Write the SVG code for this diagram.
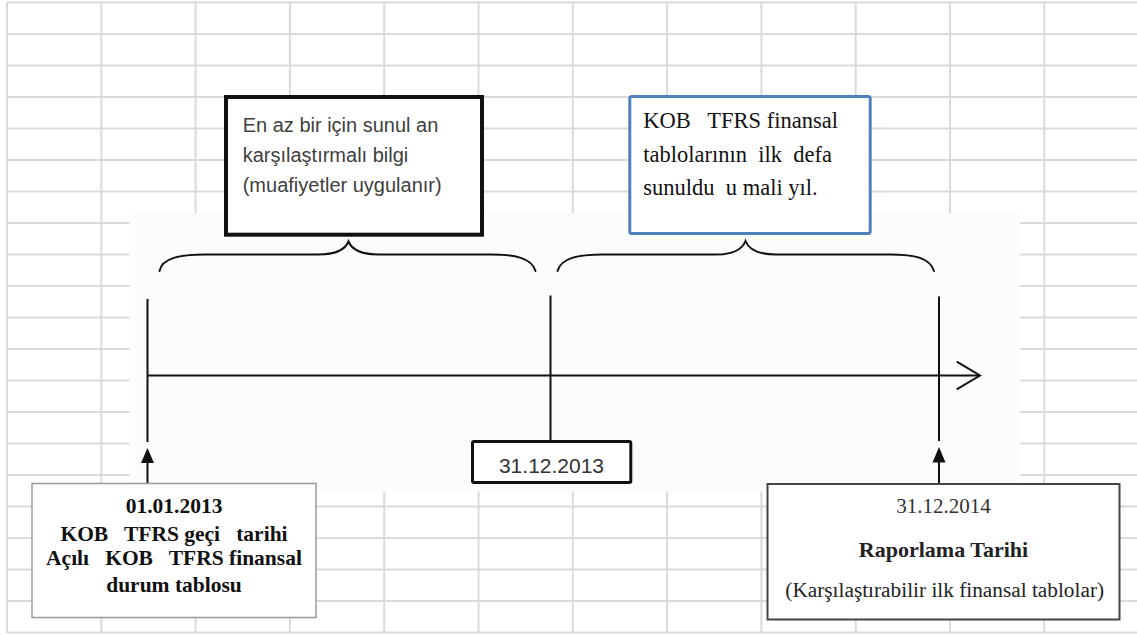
<svg xmlns="http://www.w3.org/2000/svg" width="1137" height="635" viewBox="0 0 1137 635">
<style>
.grid line{stroke:#dadada;stroke-width:2}
.ln{stroke:#111;stroke-width:2;fill:none}
.brace{stroke:#111;stroke-width:2;fill:none;stroke-linecap:round}
.head{fill:#111}
.sans{font-family:"Liberation Sans",Arial,sans-serif}
.serif{font-family:"Liberation Serif","Times New Roman",serif}
text{white-space:pre}
</style>
<rect width="1137" height="635" fill="#ffffff"/>
<g class="grid">
<line x1="7" y1="2.5" x2="1137" y2="2.5"/>
<line x1="7" y1="34" x2="1137" y2="34"/>
<line x1="7" y1="65.5" x2="1137" y2="65.5"/>
<line x1="7" y1="97" x2="1137" y2="97"/>
<line x1="7" y1="128.5" x2="1137" y2="128.5"/>
<line x1="7" y1="160" x2="1137" y2="160"/>
<line x1="7" y1="191.5" x2="1137" y2="191.5"/>
<line x1="7" y1="223" x2="1137" y2="223"/>
<line x1="7" y1="254.5" x2="1137" y2="254.5"/>
<line x1="7" y1="286" x2="1137" y2="286"/>
<line x1="7" y1="317.5" x2="1137" y2="317.5"/>
<line x1="7" y1="349" x2="1137" y2="349"/>
<line x1="7" y1="380.5" x2="1137" y2="380.5"/>
<line x1="7" y1="412" x2="1137" y2="412"/>
<line x1="7" y1="443.5" x2="1137" y2="443.5"/>
<line x1="7" y1="475" x2="1137" y2="475"/>
<line x1="7" y1="506.5" x2="1137" y2="506.5"/>
<line x1="7" y1="538" x2="1137" y2="538"/>
<line x1="7" y1="569.5" x2="1137" y2="569.5"/>
<line x1="7" y1="601" x2="1137" y2="601"/>
<line x1="7" y1="632.5" x2="1137" y2="632.5"/>
<line x1="7" y1="2.5" x2="7" y2="632.5"/>
<line x1="101.3" y1="2.5" x2="101.3" y2="632.5"/>
<line x1="195.6" y1="2.5" x2="195.6" y2="632.5"/>
<line x1="289.9" y1="2.5" x2="289.9" y2="632.5"/>
<line x1="384.2" y1="2.5" x2="384.2" y2="632.5"/>
<line x1="478.5" y1="2.5" x2="478.5" y2="632.5"/>
<line x1="572.8" y1="2.5" x2="572.8" y2="632.5"/>
<line x1="667.1" y1="2.5" x2="667.1" y2="632.5"/>
<line x1="761.4" y1="2.5" x2="761.4" y2="632.5"/>
<line x1="855.7" y1="2.5" x2="855.7" y2="632.5"/>
<line x1="950" y1="2.5" x2="950" y2="632.5"/>
<line x1="1044.3" y1="2.5" x2="1044.3" y2="632.5"/>
</g>
<rect x="129.5" y="213" width="890.5" height="278.5" fill="#fcfcfc"/>
<g id="connectors">
<path class="brace" d="M159.5,271 C162,258 180,254.5 205,254.5 L318,254.5 C335,254.5 345,250 348.5,241.5 C352,250 362,254.5 379,254.5 L490,254.5 C515,254.5 532,258 535.5,271"/>
<path class="brace" d="M557.5,271 C561,258 578,254.5 603,254.5 L716,254.5 C733,254.5 742,250 745.5,241 C749,250 759,254.5 776,254.5 L890,254.5 C915,254.5 930,258 934,271"/>
<line class="ln" x1="147.5" y1="375.5" x2="979" y2="375.5"/>
<polyline class="ln" points="956.7,361.7 980,375.5 956.7,389.3"/>
<line class="ln" x1="147.5" y1="299" x2="147.5" y2="442"/>
<line class="ln" x1="550.5" y1="295.5" x2="550.5" y2="441"/>
<line class="ln" x1="939" y1="296.5" x2="939" y2="441"/>
<line class="ln" x1="147.5" y1="483" x2="147.5" y2="460"/>
<polygon class="head" points="147.5,448 141,463 154,463"/>
<line class="ln" x1="939" y1="483" x2="939" y2="460"/>
<polygon class="head" points="939,447 932.5,462.5 945.5,462.5"/>
</g>
<g id="box-karsilastirmali">
<rect x="226" y="97" width="256" height="137.7" fill="#ffffff" stroke="#111" stroke-width="4"/>
<text class="sans" font-size="20" fill="#404040"><tspan x="242.7" y="131.7">En az bir için sunul an</tspan><tspan x="242.7" y="161.7">karşılaştırmalı bilgi</tspan><tspan x="242.7" y="191.5">(muafiyetler uygulanır)</tspan></text>
</g>
<g id="box-ilk-defa">
<rect x="629.8" y="96.5" width="240.4" height="137" rx="2" fill="#ffffff" stroke="#4f81bd" stroke-width="3"/>
<text class="serif" font-size="22.5" fill="#111"><tspan x="643.3" y="128.3">KOB   TFRS finansal</tspan><tspan x="643.3" y="161.7">tablolarının  ilk  defa</tspan><tspan x="643.3" y="195">sunuldu  u mali yıl.</tspan></text>
</g>
<g id="box-20131231">
<rect x="472.5" y="441.5" width="158.3" height="41" rx="1.5" fill="#ffffff" stroke="#111" stroke-width="3"/>
<text class="sans" font-size="21" fill="#333" x="551.5" y="473" text-anchor="middle">31.12.2013</text>
</g>
<g id="box-20130101">
<rect x="32" y="483.5" width="284" height="134" fill="#ffffff" stroke="#9a9a9a" stroke-width="1.5"/>
<text class="serif" font-size="21.5" font-weight="bold" fill="#111" text-anchor="middle"><tspan x="174" y="512.7">01.01.2013</tspan><tspan x="174" y="541">KOB   TFRS geçi   tarihi</tspan><tspan x="174" y="564.5">Açılı   KOB   TFRS finansal</tspan><tspan x="174" y="591.7">durum tablosu</tspan></text>
</g>
<g id="box-20141231">
<rect x="767.5" y="484" width="352" height="135.5" fill="#ffffff" stroke="#444" stroke-width="2"/>
<text class="serif" font-size="21" fill="#333" x="943.5" y="513.3" text-anchor="middle">31.12.2014</text>
<text class="serif" font-size="22" font-weight="bold" fill="#222" x="943.5" y="556.7" text-anchor="middle">Raporlama Tarihi</text>
<text class="serif" font-size="21.3" fill="#222" x="944.7" y="596.7" text-anchor="middle">(Karşılaştırabilir ilk finansal tablolar)</text>
</g>
</svg>
